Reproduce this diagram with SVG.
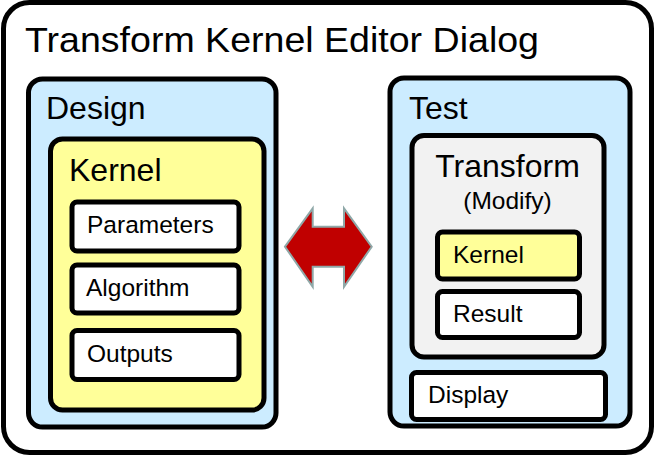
<svg xmlns="http://www.w3.org/2000/svg" width="655" height="455" viewBox="0 0 655 455">
<style>
.b{stroke:#000;stroke-width:5}
.t{font-family:"Liberation Sans",Arial,sans-serif;fill:#000}
.big{font-size:32px}
.sm{font-size:24.5px}
</style>
<rect width="655" height="455" fill="#fff"/>
<g id="dialog">
<rect class="b" x="3.5" y="2.5" width="648" height="450" rx="26" fill="#fff"/>
<text class="t" x="25" y="52" font-size="35" textLength="514" lengthAdjust="spacingAndGlyphs">Transform Kernel Editor Dialog</text>
</g>
<g id="design">
<rect class="b" x="28.5" y="79" width="247.5" height="348" rx="14" fill="#CCECFF"/>
<text class="t big" x="46" y="119">Design</text>
</g>
<g id="kernel">
<rect class="b" x="50.5" y="139" width="213.5" height="271" rx="12" fill="#FFFF99"/>
<text class="t big" x="69" y="181">Kernel</text>
</g>
<g id="parameters">
<rect class="b" x="72" y="202" width="167" height="49" rx="5" fill="#fff"/>
<text class="t sm" x="87" y="233">Parameters</text>
</g>
<g id="algorithm">
<rect class="b" x="72" y="265" width="167" height="48" rx="5" fill="#fff"/>
<text class="t sm" x="86" y="296">Algorithm</text>
</g>
<g id="outputs">
<rect class="b" x="72" y="330.5" width="167" height="49" rx="5" fill="#fff"/>
<text class="t sm" x="87" y="362">Outputs</text>
</g>
<g id="test">
<rect class="b" x="390" y="78" width="240" height="348" rx="14" fill="#CCECFF"/>
<text class="t big" x="409" y="119">Test</text>
</g>
<g id="transform">
<rect class="b" x="412" y="135.5" width="192" height="221.5" rx="12" fill="#F2F2F2"/>
<text class="t big" x="507.5" y="177" text-anchor="middle">Transform</text>
<text class="t sm" x="507.5" y="209" text-anchor="middle">(Modify)</text>
</g>
<g id="kernel-test">
<rect class="b" x="437.5" y="232" width="142" height="47" rx="5" fill="#FFFF99"/>
<text class="t sm" x="453" y="263">Kernel</text>
</g>
<g id="result">
<rect class="b" x="437.5" y="291.5" width="142" height="46" rx="5" fill="#fff"/>
<text class="t sm" x="453" y="322">Result</text>
</g>
<g id="display">
<rect class="b" x="411.5" y="372.5" width="194" height="47" rx="5" fill="#fff"/>
<text class="t sm" x="428" y="403">Display</text>
</g>
<g id="connectors">
<polygon points="285,246.7 312.7,208.3 312.7,226.7 344,226.7 344,208.3 371.7,246.7 344,286.7 344,266.7 312.7,266.7 312.7,286.7" fill="#C00000" stroke="#8FA8A8" stroke-width="2" stroke-linejoin="miter"/>
</g>
</svg>
